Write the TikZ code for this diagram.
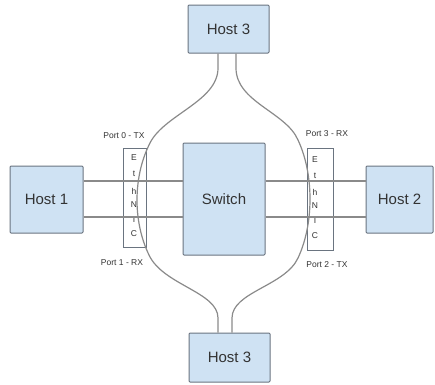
\documentclass[tikz,border=0pt]{standalone}
\usepackage{fontspec}
\setmainfont{Liberation Sans}
\usetikzlibrary{calc}
\definecolor{boxfill}{HTML}{CFE2F3}
\definecolor{boxline}{HTML}{6A7480}
\definecolor{wire}{HTML}{8A8A8A}
\definecolor{txt}{HTML}{333333}
\begin{document}
\begin{tikzpicture}[x=1pt,y=-1pt,
  hostbox/.style={draw=boxline, fill=boxfill, line width=1pt, rounded corners=1pt,
    font=\fontsize{15}{17}\selectfont, text=txt, inner sep=0pt},
  nicbox/.style={draw=boxline, line width=0.8pt, fill=white, inner sep=0pt},
  wireline/.style={draw=wire, line width=1.2pt},
  portlbl/.style={font=\fontsize{8.5}{10}\selectfont, text=txt, inner sep=0pt},
  niclbl/.style={font=\fontsize{8.5}{10}\selectfont, text=txt, inner sep=0pt}]
\useasboundingbox (0,0) rectangle (435,384);

% NIC boxes
\node[nicbox, minimum width=23pt, minimum height=99pt] (nicL) at (134.5,197.5) {};
\node[nicbox, minimum width=26pt, minimum height=102pt] (nicR) at (320,199) {};

% letters
\foreach \l/\y in {E/158,t/174,h/191,N/205,I/220,C/234}{
  \node[niclbl] at (134,\y) {\l};
}
\foreach \l/\y in {E/160,t/176,h/192,N/206,I/221,C/236}{
  \node[niclbl] at (315,\y) {\l};
}

% hosts and switch
\node[hostbox, minimum width=81pt, minimum height=48pt] (h3t) at (228.5,29) {Host 3};
\node[hostbox, minimum width=81pt, minimum height=49pt] (h3b) at (229.5,357.5) {Host 3};
\node[hostbox, minimum width=73pt, minimum height=67pt] (h1) at (46.5,199.5) {Host 1};
\node[hostbox, minimum width=67pt, minimum height=67pt] (h2) at (399.5,199.5) {Host 2};
\node[hostbox, minimum width=82pt, minimum height=112pt] (sw) at (224,199) {Switch};

\coordinate (ya) at (0,181);
\coordinate (yb) at (0,217);

% horizontal links
\draw[wireline] (h1.east |- ya) -- (sw.west |- ya);
\draw[wireline] (h1.east |- yb) -- (sw.west |- yb);
\draw[wireline] (sw.east |- ya) -- (h2.west |- ya);
\draw[wireline] (sw.east |- yb) -- (h2.west |- yb);

% curved links
\draw[wireline] ($(h3t.south)+(-10.5,0)$) -- (218,68)
  .. controls (218,102) and (162,115) .. (149,145)
  .. controls (133,178) and (133,222) .. (149,255)
  .. controls (163,285) and (218,292) .. (218,318)
  -- ($(h3b.north)+(-11.5,0)$);
\draw[wireline] ($(h3t.south)+(7.5,0)$) -- (236,68)
  .. controls (236,102) and (286,112) .. (298,140)
  .. controls (314,174) and (314,224) .. (298,258)
  .. controls (285,286) and (232,292) .. (232,318)
  -- ($(h3b.north)+(2.5,0)$);

% port labels
\node[portlbl] (p0) at (124,136) {Port 0 - TX};
\node[portlbl] (p1) at (122,263) {Port 1 - RX};
\node[portlbl] (p3) at (327,134) {Port 3 - RX};
\node[portlbl] (p2) at (327,265) {Port 2 - TX};
\end{tikzpicture}
\end{document}
